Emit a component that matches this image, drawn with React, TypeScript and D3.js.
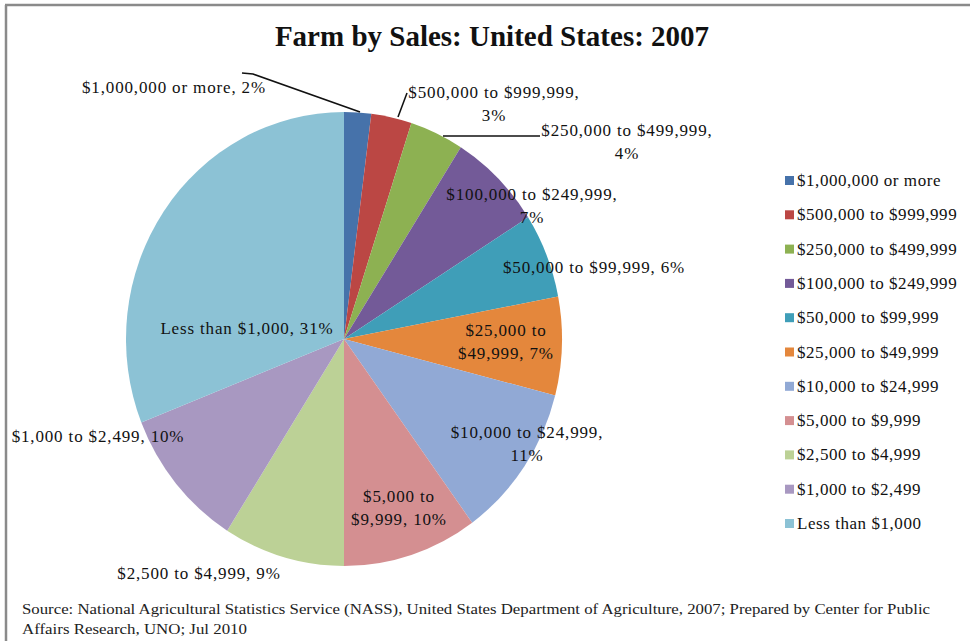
import React from "react";
import * as d3 from "d3";

const categories = [
  "$1,000,000 or more",
  "$500,000 to $999,999",
  "$250,000 to $499,999",
  "$100,000 to $249,999",
  "$50,000 to $99,999",
  "$25,000 to $49,999",
  "$10,000 to $24,999",
  "$5,000 to $9,999",
  "$2,500 to $4,999",
  "$1,000 to $2,499",
  "Less than $1,000",
];
const percents = [2, 3, 4, 7, 6, 7, 11, 10, 9, 10, 31];
const colors = [
  "#4672AA",
  "#BB4744",
  "#8DB152",
  "#735A98",
  "#3F9EB8",
  "#E4873C",
  "#91A9D5",
  "#D48F91",
  "#BCD196",
  "#A898C1",
  "#8CC2D5",
];

// data label lines (text layout only)
const labelLines: { lines: string[]; x: number; y: number }[] = [
  { lines: ["$1,000,000 or more, 2%"], x: 174, y: 93 },
  { lines: ["$500,000 to $999,999,", "3%"], x: 494, y: 98 },
  { lines: ["$250,000 to $499,999,", "4%"], x: 627, y: 136 },
  { lines: ["$100,000 to $249,999,", "7%"], x: 532, y: 200 },
  { lines: ["$50,000 to $99,999, 6%"], x: 594, y: 273 },
  { lines: ["$25,000 to", "$49,999, 7%"], x: 506, y: 336 },
  { lines: ["$10,000 to $24,999,", "11%"], x: 527, y: 438 },
  { lines: ["$5,000 to", "$9,999, 10%"], x: 399, y: 502 },
  { lines: ["$2,500 to $4,999, 9%"], x: 199, y: 579 },
  { lines: ["$1,000 to $2,499, 10%"], x: 98, y: 442 },
  { lines: ["Less than $1,000, 31%"], x: 247, y: 334 },
];

const title = "Farm by Sales: United States: 2007";
const sourceLines = [
  "Source: National Agricultural Statistics Service (NASS), United States Department of Agriculture, 2007; Prepared by Center for Public",
  "Affairs Research, UNO; Jul 2010",
];
const sourceWidths = [908, 225];

export default function App() {
  const W = 970;
  const H = 641;
  const cx = 344;
  const cy = 339;
  const ry = 227;
  const sx = 218 / 227;

  const pie = d3.pie<number>().sort(null).value((d) => d);
  const arcs = pie(percents);
  const arc = d3.arc<d3.PieArcDatum<number>>().innerRadius(0).outerRadius(ry);

  const legendY = d3.scalePoint<number>().domain(d3.range(categories.length)).range([181, 524]);

  const font = "'Liberation Serif', 'Times New Roman', serif";

  return (
    <svg width={W} height={H} style={{ position: "absolute", left: 0, top: 0, background: "#fff" }}>
      <rect x={0} y={0} width={W} height={H} fill="#fff" />
      <line x1={5} y1={5} x2={W} y2={5} stroke="#8a8a8a" strokeWidth={2.5} />
      <line x1={6} y1={5} x2={6} y2={H} stroke="#8a8a8a" strokeWidth={2.5} />

      <text x={492} y={46} textAnchor="middle" fontFamily={font} fontWeight="bold" fontSize={29} fill="#111">
        {title}
      </text>

      <g transform={`translate(${cx},${cy}) scale(${sx},1)`}>
        {arcs.map((a, i) => (
          <path key={i} d={arc(a) || ""} fill={colors[i]} />
        ))}
      </g>

      {/* leader lines */}
      <polyline points="242,73 253,74 360,112" fill="none" stroke="#111" strokeWidth={1.6} />
      <line x1={398} y1={117} x2={407} y2={93} stroke="#111" strokeWidth={1.6} />
      <line x1={443} y1={136} x2={540} y2={136} stroke="#111" strokeWidth={1.6} />

      {labelLines.map((l, i) => (
        <text key={i} textAnchor="middle" fontFamily={font} fontSize={17} letterSpacing={0.85} fill="#111">
          {l.lines.map((s, j) => (
            <tspan key={j} x={l.x} y={l.y + j * 23}>
              {s}
            </tspan>
          ))}
        </text>
      ))}

      {categories.map((c, i) => (
        <g key={i} transform={`translate(785,${legendY(i)})`}>
          <rect x={0} y={-5} width={9} height={9} fill={colors[i]} />
          <text x={12} y={5} fontFamily={font} fontSize={17} letterSpacing={0.55} fill="#111">
            {c}
          </text>
        </g>
      ))}

      {sourceLines.map((s, i) => (
        <text
          key={i}
          x={22}
          y={614 + i * 20}
          fontFamily={font}
          fontSize={14.5}
          textLength={sourceWidths[i]}
          lengthAdjust="spacingAndGlyphs"
          fill="#222"
        >
          {s}
        </text>
      ))}
    </svg>
  );
}
